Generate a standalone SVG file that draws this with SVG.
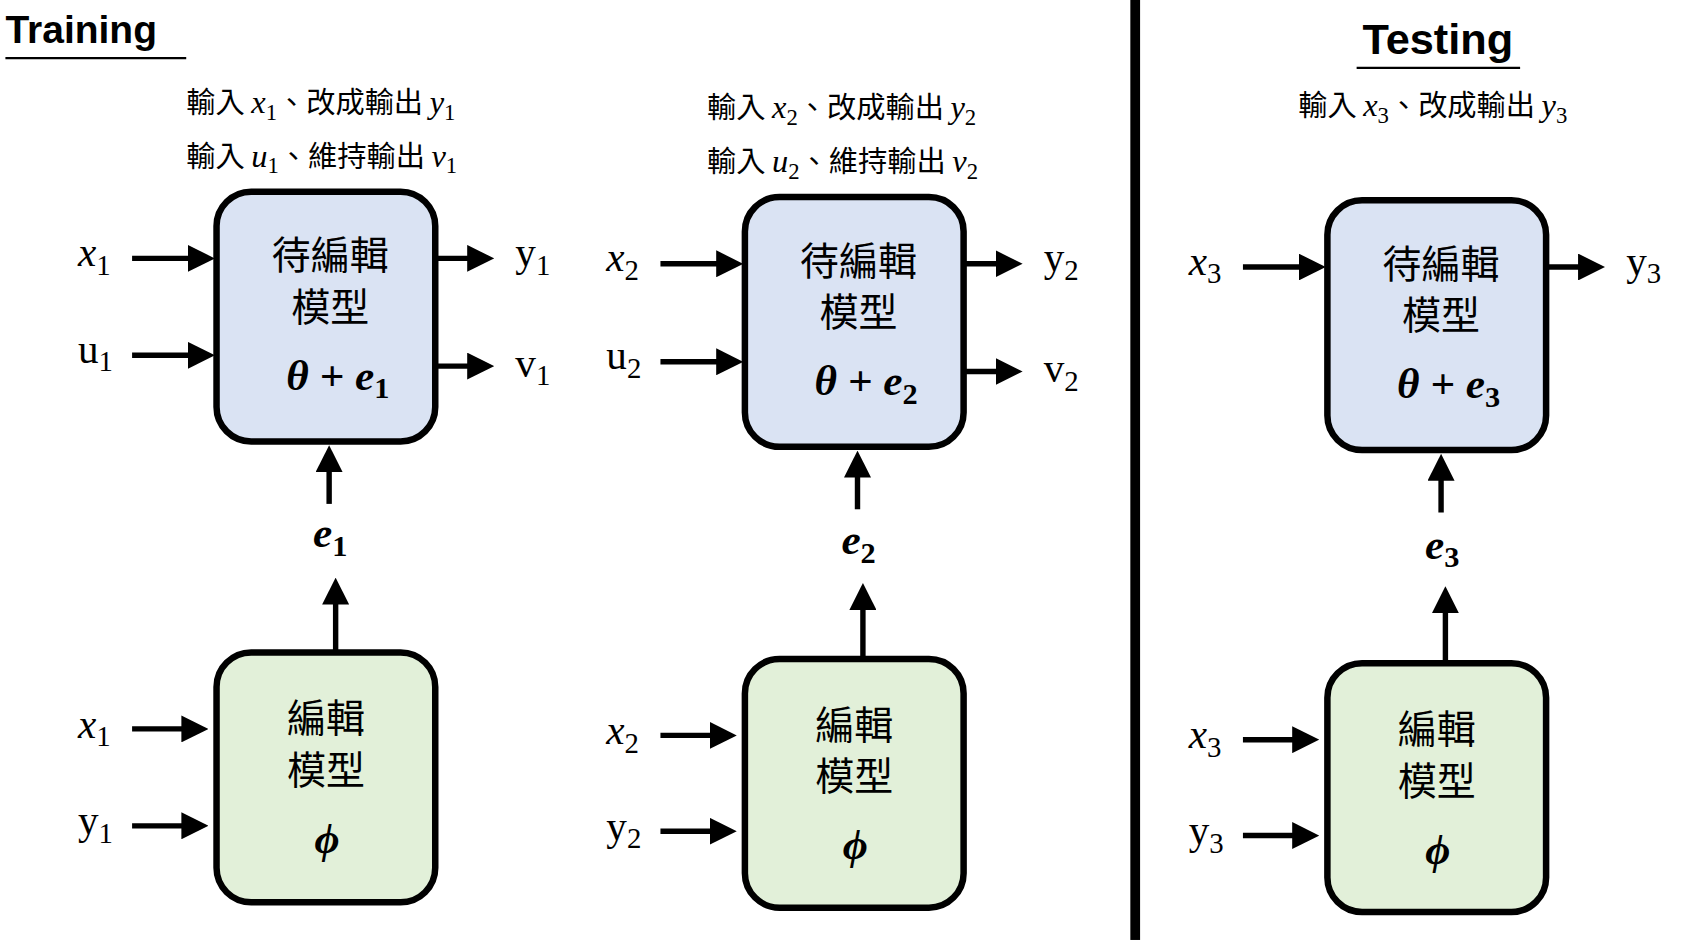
<svg xmlns="http://www.w3.org/2000/svg" width="1689" height="940" viewBox="0 0 1689 940">
<style>
.blue{fill:#dae3f3;stroke:#000;stroke-width:6}
.green{fill:#e2f0d9;stroke:#000;stroke-width:6}
.cjk{font-family:"Noto Sans CJK TC","Noto Sans CJK SC",sans-serif;font-size:36px;text-anchor:middle}
.hdr{font-family:"Noto Sans CJK TC","Noto Sans CJK SC",sans-serif;font-size:27px}
.m{font-family:"Liberation Serif",serif;font-style:italic;font-size:30px}
.lab{font-family:"Liberation Serif",serif;font-size:38px}
.bm{font-family:"Liberation Serif",serif;font-size:40px;font-weight:bold;font-style:italic;text-anchor:middle}
.ar{stroke:#000;stroke-width:5;fill:none;marker-end:url(#ah)}
.sub{font-size:0.7em;font-style:normal}
</style>
<defs><marker id="ah" markerWidth="5" markerHeight="5" refX="2.5" refY="2.5" orient="auto" markerUnits="strokeWidth"><path d="M0,0 L5,2.5 L0,5 z" fill="#000"/></marker></defs>
<rect width="1689" height="940" fill="#fff"/>
<g transform="scale(1.0827,1.0767)">
<g id="titles">
<text x="5" y="40" font-family="Liberation Sans,sans-serif" font-weight="bold" font-size="36">Training</text>
<line x1="5" y1="54" x2="172" y2="54" stroke="#000" stroke-width="2"/>
<text x="1328" y="50" text-anchor="middle" font-family="Liberation Sans,sans-serif" font-weight="bold" font-size="40">Testing</text>
<line x1="1253" y1="63" x2="1404" y2="63" stroke="#000" stroke-width="2"/>
<rect x="1044" y="0" width="9" height="873" fill="#000"/>
</g>
<g id="headers" class="hdr">
<text x="172" y="105">輸入 <tspan class="m">x<tspan class="sub" dy="6">1</tspan></tspan><tspan dy="-6">、改成輸出 </tspan><tspan class="m">y<tspan class="sub" dy="6">1</tspan></tspan></text>
<text x="172" y="155">輸入 <tspan class="m">u<tspan class="sub" dy="6">1</tspan></tspan><tspan dy="-6">、維持輸出 </tspan><tspan class="m">v<tspan class="sub" dy="6">1</tspan></tspan></text>
<text x="653" y="110">輸入 <tspan class="m">x<tspan class="sub" dy="6">2</tspan></tspan><tspan dy="-6">、改成輸出 </tspan><tspan class="m">y<tspan class="sub" dy="6">2</tspan></tspan></text>
<text x="653" y="160">輸入 <tspan class="m">u<tspan class="sub" dy="6">2</tspan></tspan><tspan dy="-6">、維持輸出 </tspan><tspan class="m">v<tspan class="sub" dy="6">2</tspan></tspan></text>
<text x="1199" y="108">輸入 <tspan class="m">x<tspan class="sub" dy="6">3</tspan></tspan><tspan dy="-6">、改成輸出 </tspan><tspan class="m">y<tspan class="sub" dy="6">3</tspan></tspan></text>
</g>
<g id="edit1"><rect class="blue" x="200" y="178" width="202" height="232" rx="32"/>
<text class="cjk" x="305" y="250">待編輯</text><text class="cjk" x="305" y="298">模型</text>
<text class="bm" x="312" y="362">θ + e<tspan class="sub" dy="8">1</tspan></text></g>
<g id="phi1"><rect class="green" x="200" y="606" width="202" height="232" rx="32"/>
<text class="cjk" x="301" y="680">編輯</text><text class="cjk" x="301" y="728">模型</text>
<text class="bm" x="302" y="792">ϕ</text></g>
<g id="edit2"><rect class="blue" x="688" y="183" width="202" height="232" rx="32"/>
<text class="cjk" x="793" y="255">待編輯</text><text class="cjk" x="793" y="303">模型</text>
<text class="bm" x="800" y="367">θ + e<tspan class="sub" dy="8">2</tspan></text></g>
<g id="phi2"><rect class="green" x="688" y="612" width="202" height="231" rx="32"/>
<text class="cjk" x="789" y="686">編輯</text><text class="cjk" x="789" y="734">模型</text>
<text class="bm" x="790" y="798">ϕ</text></g>
<g id="edit3"><rect class="blue" x="1226" y="186" width="202" height="232" rx="32"/>
<text class="cjk" x="1331" y="258">待編輯</text><text class="cjk" x="1331" y="306">模型</text>
<text class="bm" x="1338" y="370">θ + e<tspan class="sub" dy="8">3</tspan></text></g>
<g id="phi3"><rect class="green" x="1226" y="616" width="202" height="231" rx="32"/>
<text class="cjk" x="1327" y="690">編輯</text><text class="cjk" x="1327" y="738">模型</text>
<text class="bm" x="1328" y="802">ϕ</text></g>
<g id="labels" class="lab">
<text x="72" y="247"><tspan font-style="italic">x</tspan><tspan class="sub" dy="8">1</tspan></text>
<text x="72" y="337">u<tspan class="sub" dy="8">1</tspan></text>
<text x="476" y="247">y<tspan class="sub" dy="8">1</tspan></text>
<text x="476" y="350">v<tspan class="sub" dy="8">1</tspan></text>
<text x="72" y="685"><tspan font-style="italic">x</tspan><tspan class="sub" dy="8">1</tspan></text>
<text x="72" y="775">y<tspan class="sub" dy="8">1</tspan></text>
<text class="bm" x="305" y="508">e<tspan class="sub" dy="8">1</tspan></text>
<text x="560" y="252"><tspan font-style="italic">x</tspan><tspan class="sub" dy="8">2</tspan></text>
<text x="560" y="343">u<tspan class="sub" dy="8">2</tspan></text>
<text x="964" y="252">y<tspan class="sub" dy="8">2</tspan></text>
<text x="964" y="355">v<tspan class="sub" dy="8">2</tspan></text>
<text x="560" y="691"><tspan font-style="italic">x</tspan><tspan class="sub" dy="8">2</tspan></text>
<text x="560" y="780">y<tspan class="sub" dy="8">2</tspan></text>
<text class="bm" x="793" y="515">e<tspan class="sub" dy="8">2</tspan></text>
<text x="1098" y="255"><tspan font-style="italic">x</tspan><tspan class="sub" dy="8">3</tspan></text>
<text x="1502" y="255">y<tspan class="sub" dy="8">3</tspan></text>
<text x="1098" y="695"><tspan font-style="italic">x</tspan><tspan class="sub" dy="8">3</tspan></text>
<text x="1098" y="784">y<tspan class="sub" dy="8">3</tspan></text>
<text class="bm" x="1332" y="519">e<tspan class="sub" dy="8">3</tspan></text>
</g>
<g id="connectors">
<line class="ar" x1="122" y1="240" x2="186" y2="240"/>
<line class="ar" x1="122" y1="330" x2="186" y2="330"/>
<line class="ar" x1="404" y1="240" x2="444" y2="240"/>
<line class="ar" x1="404" y1="340" x2="444" y2="340"/>
<line class="ar" x1="304" y1="468" x2="304" y2="426"/>
<line class="ar" x1="310" y1="604" x2="310" y2="549"/>
<line class="ar" x1="122" y1="677" x2="180" y2="677"/>
<line class="ar" x1="122" y1="767" x2="180" y2="767"/>
<line class="ar" x1="610" y1="245" x2="674" y2="245"/>
<line class="ar" x1="610" y1="336" x2="674" y2="336"/>
<line class="ar" x1="892" y1="245" x2="932" y2="245"/>
<line class="ar" x1="892" y1="345" x2="932" y2="345"/>
<line class="ar" x1="792" y1="473" x2="792" y2="431"/>
<line class="ar" x1="797" y1="610" x2="797" y2="554"/>
<line class="ar" x1="610" y1="683" x2="668" y2="683"/>
<line class="ar" x1="610" y1="772" x2="668" y2="772"/>
<line class="ar" x1="1148" y1="248" x2="1212" y2="248"/>
<line class="ar" x1="1430" y1="248" x2="1470" y2="248"/>
<line class="ar" x1="1331" y1="476" x2="1331" y2="434"/>
<line class="ar" x1="1335" y1="614" x2="1335" y2="557"/>
<line class="ar" x1="1148" y1="687" x2="1206" y2="687"/>
<line class="ar" x1="1148" y1="776" x2="1206" y2="776"/>
</g>
</g>
</svg>
